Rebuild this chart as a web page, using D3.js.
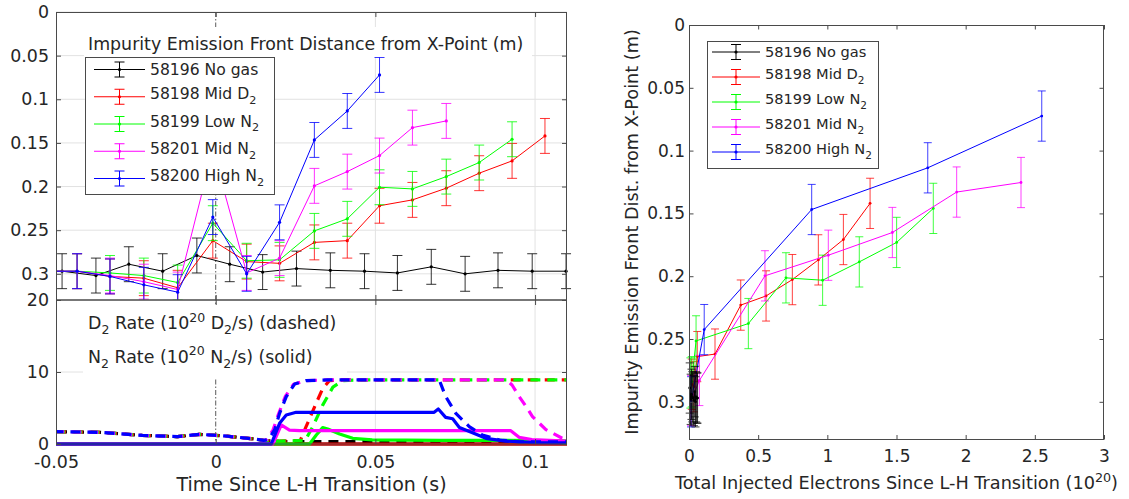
<!DOCTYPE html>
<html><head><meta charset="utf-8">
<script src="https://cdn.jsdelivr.net/npm/d3@7"></script>
<style>body{margin:0;background:#fff}svg{font-family:"DejaVu Sans",sans-serif;display:block}</style>
</head><body><svg id="c" width="1129" height="499"></svg>
<script>
// ---------------- DATA ----------------
const seriesNames = ["58196 No gas", "58198 Mid D_2", "58199 Low N_2", "58201 Mid N_2", "58200 High N_2"];
const seriesColors = ["#000000", "#ff0000", "#00ff00", "#ff00ff", "#0000ff"];

// Top-left: front distance vs time
const noGasTimes = [-0.0586,-0.0481,-0.0375,-0.0272,-0.0166,-0.0059,0.0044,0.0147,0.0253,0.0359,0.0466,0.0569,0.0675,0.0781,0.0884,0.0991,0.1097];
const gasTimes = [-0.0537,-0.0434,-0.0331,-0.0225,-0.0119,-0.0009,0.0097,0.0200,0.0309,0.0412,0.0513,0.0616,0.0722,0.0825,0.0928,0.1031];
const frontNoGas  = [0.298,0.297,0.302,0.289,0.297,0.279,0.289,0.298,0.294,0.296,0.297,0.299,0.292,0.300,0.296,0.297,0.297];
const frontMidD2  = [0.297,0.297,0.303,0.305,0.316,0.262,0.286,0.288,0.264,0.262,0.222,0.2153,0.2019,0.1847,0.1706,0.142];
const frontLowN2  = [0.297,0.297,0.299,0.302,0.310,0.242,0.285,0.284,0.2508,0.237,0.2008,0.2027,0.1886,0.1725,0.1458];
const frontMidN2  = [0.297,0.297,0.302,0.309,0.318,0.158,0.299,0.282,0.1992,0.1829,0.1645,0.1325,0.1248];
const frontHighN2 = [0.297,0.297,0.303,0.3126,0.321,0.235,0.300,0.241,0.1466,0.1134,0.0721];
const frontErr = 0.02;

// Bottom-left: gas rates [time, rate 1e20/s]
const d2Pre = [[-0.055,1.75],[-0.036,1.62],[-0.023,1.2],[-0.012,1.02],[-0.005,1.34],[0.003,1.11],[0.012,0.7],[0.015,0.5]];
const d2NoGas  = d2Pre.concat([[0.02,0.35],[0.11,0.3]]);
const d2MidD2  = d2Pre.concat([[0.02,0.4],[0.0265,0.5],[0.0283,2.4],[0.031,5.2],[0.0335,7.7],[0.0356,8.8],[0.04,8.9],[0.11,8.9]]);
const d2LowN2  = d2Pre.concat([[0.02,0.4],[0.028,0.5],[0.0304,2.4],[0.0335,5.4],[0.0367,7.9],[0.0398,8.8],[0.045,8.9],[0.11,8.9]]);
const d2MidN2  = d2Pre.concat([[0.016,0.6],[0.018,2.0],[0.0197,4.2],[0.0218,6.6],[0.0244,8.3],[0.028,8.8],[0.035,8.9],[0.091,8.9],[0.0928,8.2],[0.095,6.6],[0.0972,5.2],[0.0992,3.8],[0.1034,2.0],[0.1085,0.8],[0.11,0.6]]);
const d2HighN2 = d2Pre.concat([[0.0165,0.6],[0.0185,2.0],[0.02,4.26],[0.0221,6.57],[0.0247,8.33],[0.0283,8.8],[0.035,8.9],[0.07,8.9],[0.072,6.6],[0.0752,4.26],[0.0794,2.41],[0.0835,1.25],[0.0888,0.56],[0.095,0.3],[0.11,0.3]]);
const n2NoGas  = [[-0.055,0],[0.11,0]];
const n2MidD2  = [[-0.055,0],[0.11,0]];
const n2LowN2  = [[-0.055,0],[0.0294,0],[0.0315,1.25],[0.0335,2.27],[0.0351,2.08],[0.0388,1.39],[0.0429,0.79],[0.049,0.56],[0.07,0.5],[0.09,0.5],[0.11,0.45]];
const n2MidN2  = [[-0.055,0],[0.0179,0],[0.0205,2.64],[0.0231,1.94],[0.0263,1.85],[0.0924,1.85],[0.095,0.93],[0.099,0.6],[0.11,0.4]];
const n2HighN2 = [[-0.055,0],[0.0174,0],[0.02,2.87],[0.0221,4.03],[0.0252,4.4],[0.0684,4.4],[0.0697,4.86],[0.072,3.7],[0.0742,3.5],[0.0763,2.3],[0.0804,1.57],[0.0846,0.79],[0.0908,0.4],[0.1,0.2],[0.11,0.15]];

// Right: front distance vs injected electrons
const elecNoGas  = [0.005,0.012,0.018,0.024,0.030,0.036,0.042,0.047,0.052,0.057,0.062];
const distNoGas  = [0.289,0.298,0.294,0.296,0.297,0.299,0.292,0.300,0.296,0.297,0.297];
const elecMidD2  = [0.02,0.035,0.06,0.188,0.374,0.557,0.747,0.935,1.116,1.309];
const distMidD2  = [0.286,0.288,0.264,0.262,0.223,0.2157,0.2027,0.187,0.1708,0.142];
const elecLowN2  = [0.01,0.02,0.051,0.429,0.701,0.966,1.231,1.501,1.766];
const distLowN2  = [0.285,0.284,0.2515,0.2377,0.2013,0.2032,0.1886,0.1731,0.146];
const elecMidN2  = [0.015,0.075,0.549,1.007,1.47,1.935,2.40];
const distMidN2  = [0.299,0.283,0.1997,0.1833,0.1652,0.133,0.1254];
const elecHighN2 = [0.015,0.11,0.887,1.726,2.55];
const distHighN2 = [0.300,0.2425,0.1469,0.1137,0.0725];

const leftYTicks = [0, 0.05, 0.1, 0.15, 0.2, 0.25, 0.3];
const rateTicks = [0, 10, 20];
const timeTicks = [-0.05, 0, 0.05, 0.1];
const rightXTicks = [0, 0.5, 1, 1.5, 2, 2.5, 3];
const rightYTicks = [0, 0.05, 0.1, 0.15, 0.2, 0.25, 0.3];

// ---------------- HELPERS ----------------
const svg = d3.select("#c");
const TXT = "#262626", AX = "#4a4a4a", GRID = "#e2e2e2";
const fmt = d => String(+d.toFixed(3));

function rich(g, str, x, y, size, anchor) {
  const t = g.append("text").attr("x", x).attr("y", y).attr("font-size", size)
    .attr("fill", TXT).style("white-space", "pre");
  if (anchor) t.attr("text-anchor", anchor);
  const segs = []; let i = 0, buf = "";
  while (i < str.length) {
    const c = str[i];
    if (c === "_" || c === "^") {
      if (buf) { segs.push({s: buf, m: 0}); buf = ""; }
      let s;
      if (str[i + 1] === "{") { const j = str.indexOf("}", i); s = str.slice(i + 2, j); i = j + 1; }
      else { s = str[i + 1]; i += 2; }
      segs.push({s, m: c === "_" ? 1 : -1});
    } else { buf += c; i++; }
  }
  if (buf) segs.push({s: buf, m: 0});
  let cur = 0;
  segs.forEach(sg => {
    const target = sg.m === 1 ? 0.3 * size : sg.m === -1 ? -0.42 * size : 0;
    const ts = t.append("tspan").attr("dy", target - cur).text(sg.s);
    if (sg.m) ts.attr("font-size", size * 0.72);
    cur = target;
  });
  return t;
}

function styleAxis(g, fs) {
  g.select(".domain").remove();
  g.selectAll(".tick line").attr("stroke", AX);
  g.selectAll(".tick text").attr("fill", TXT).attr("font-size", fs).attr("font-family", "DejaVu Sans");
}

// ---------------- LEFT SCALES ----------------
const xL = d3.scaleLinear().domain([-0.05, 0.11]).range([56, 567]);
const yTop = d3.scaleLinear().domain([0, 0.33]).range([12, 300]);
const yBot = d3.scaleLinear().domain([0, 20]).range([444, 300]);
const FS_L = 17.4;

// grids
const gGrid = svg.append("g");
leftYTicks.forEach(v => gGrid.append("line").attr("x1", 56).attr("x2", 567).attr("y1", yTop(v)).attr("y2", yTop(v)).attr("stroke", GRID));
[10].forEach(v => gGrid.append("line").attr("x1", 56).attr("x2", 567).attr("y1", yBot(v)).attr("y2", yBot(v)).attr("stroke", GRID));
[0.05, 0.1].forEach(v => {
  gGrid.append("line").attr("x1", xL(v)).attr("x2", xL(v)).attr("y1", 12).attr("y2", 444).attr("stroke", GRID);
});
// dash-dot zero line
gGrid.append("line").attr("x1", xL(0)).attr("x2", xL(0)).attr("y1", 12).attr("y2", 444)
  .attr("stroke", "#6a6a6a").attr("stroke-width", 1.1).attr("stroke-dasharray", "5,2,1.5,2");

// clip paths
const defs = svg.append("defs");
defs.append("clipPath").attr("id", "clipTop").append("rect").attr("x", 56).attr("y", 12).attr("width", 517).attr("height", 288);
defs.append("clipPath").attr("id", "clipBot").append("rect").attr("x", 56).attr("y", 296).attr("width", 511).attr("height", 152);

// top-left series
const topSeries = [
  {t: noGasTimes, v: frontNoGas}, {t: gasTimes, v: frontMidD2}, {t: gasTimes, v: frontLowN2},
  {t: gasTimes, v: frontMidN2}, {t: gasTimes, v: frontHighN2}
];
const gTop = svg.append("g").attr("clip-path", "url(#clipTop)");
topSeries.forEach((s, k) => {
  const pts = s.v.map((v, i) => [s.t[i], v]);
  const col = seriesColors[k];
  const g = gTop.append("g");
  g.append("path").datum(pts).attr("fill", "none").attr("stroke", col).attr("stroke-width", 1)
    .attr("d", d3.line().x(d => xL(d[0])).y(d => yTop(d[1])));
  pts.forEach(d => {
    const x = xL(d[0]), y1 = yTop(d[1] - frontErr), y2 = yTop(d[1] + frontErr);
    g.append("line").attr("x1", x).attr("x2", x).attr("y1", y1).attr("y2", y2).attr("stroke", col).attr("stroke-opacity", 0.8);
    [y1, y2].forEach(y => g.append("line").attr("x1", x - 5).attr("x2", x + 5).attr("y1", y).attr("y2", y).attr("stroke", col).attr("stroke-opacity", 0.8));
    g.append("circle").attr("cx", x).attr("cy", yTop(d[1])).attr("r", 1.6).attr("fill", col);
  });
});

// bottom-left rates
const rateD2 = [d2NoGas, d2MidD2, d2LowN2, d2MidN2, d2HighN2];
const rateN2 = [n2NoGas, n2MidD2, n2LowN2, n2MidN2, n2HighN2];
const gBot = svg.append("g").attr("clip-path", "url(#clipBot)");
const rl = d3.line().x(d => xL(d[0])).y(d => yBot(d[1]));
rateD2.forEach((r, k) => {
  gBot.append("path").datum(r).attr("fill", "none").attr("stroke", seriesColors[k]).attr("stroke-width", 3.2)
    .attr("stroke-dasharray", "10,7").attr("stroke-dashoffset", k * 0.9).attr("stroke-linejoin", "round").attr("d", rl);
  gBot.append("path").datum(rateN2[k]).attr("fill", "none").attr("stroke", seriesColors[k]).attr("stroke-width", 3.2)
    .attr("stroke-linejoin", "round").attr("d", rl);
});

// in-panel texts with white backgrounds
svg.append("rect").attr("x", 84).attr("y", 27).attr("width", 448).attr("height", 30).attr("fill", "#fff");
rich(svg, "Impurity Emission Front Distance from X-Point (m)", 88, 50, FS_L);
svg.append("rect").attr("x", 83).attr("y", 305).attr("width", 264).attr("height", 73).attr("fill", "#fff");
rich(svg, "D_2 Rate (10^{20} D_2/s) (dashed)", 88, 329, FS_L);
rich(svg, "N_2 Rate (10^{20} N_2/s) (solid)", 88, 362.5, FS_L);

// left axes
const tl = -5;
let a;
a = svg.append("g").attr("transform", "translate(56,0)").call(d3.axisLeft(yTop).tickValues(leftYTicks).tickSize(tl).tickPadding(7).tickFormat(fmt)); styleAxis(a, FS_L);
a = svg.append("g").attr("transform", "translate(567,0)").call(d3.axisRight(yTop).tickValues(leftYTicks).tickSize(tl).tickFormat("")); styleAxis(a, FS_L);
a = svg.append("g").attr("transform", "translate(0,12)").call(d3.axisTop(xL).tickValues(timeTicks).tickSize(tl).tickFormat("")); styleAxis(a, FS_L);
a = svg.append("g").attr("transform", "translate(0,300)").call(d3.axisBottom(xL).tickValues(timeTicks).tickSize(tl).tickFormat("")); styleAxis(a, FS_L);
a = svg.append("g").attr("transform", "translate(56,0)").call(d3.axisLeft(yBot).tickValues(rateTicks).tickSize(tl).tickPadding(7).tickFormat(fmt)); styleAxis(a, FS_L);
a = svg.append("g").attr("transform", "translate(567,0)").call(d3.axisRight(yBot).tickValues(rateTicks).tickSize(tl).tickFormat("")); styleAxis(a, FS_L);
a = svg.append("g").attr("transform", "translate(0,300)").call(d3.axisTop(xL).tickValues(timeTicks).tickSize(tl).tickFormat("")); styleAxis(a, FS_L);
a = svg.append("g").attr("transform", "translate(0,444)").call(d3.axisBottom(xL).tickValues(timeTicks).tickSize(tl).tickPadding(11.5).tickFormat(fmt)); styleAxis(a, FS_L);
svg.append("rect").attr("x", 56.5).attr("y", 12.5).attr("width", 510).attr("height", 287.5).attr("fill", "none").attr("stroke", AX);
svg.append("rect").attr("x", 56.5).attr("y", 300).attr("width", 510).attr("height", 144).attr("fill", "none").attr("stroke", AX);
rich(svg, "Time Since L-H Transition (s)", (56 + 567) / 2, 491, 19, "middle");

// legend helper
function legend(x0, y0, w, h, rowY, lineX1, lineX2, textX, fs) {
  const g = svg.append("g");
  g.append("rect").attr("x", x0 + 0.5).attr("y", y0 + 0.5).attr("width", w).attr("height", h).attr("fill", "#fff").attr("stroke", AX);
  seriesNames.forEach((nm, k) => {
    const y = rowY(k), col = seriesColors[k], cx = (lineX1 + lineX2) / 2;
    g.append("line").attr("x1", lineX1).attr("x2", lineX2).attr("y1", y).attr("y2", y).attr("stroke", col);
    g.append("line").attr("x1", cx).attr("x2", cx).attr("y1", y - 7.5).attr("y2", y + 7.5).attr("stroke", col);
    [y - 7.5, y + 7.5].forEach(yy => g.append("line").attr("x1", cx - 5).attr("x2", cx + 5).attr("y1", yy).attr("y2", yy).attr("stroke", col));
    g.append("circle").attr("cx", cx).attr("cy", y).attr("r", 1.6).attr("fill", col);
    const hasSub = nm.includes("_");
    rich(g, nm, textX, y + fs * 0.36 - (hasSub ? 3 : 0), fs);
  });
}
legend(85, 57, 189, 137, k => 69.5 + 27.25 * k, 94, 145, 150, 15.6);

// ---------------- RIGHT CHART ----------------
const xR = d3.scaleLinear().domain([0, 3]).range([689, 1104]);
const yR = d3.scaleLinear().domain([0, 0.33]).range([25, 439.5]);
const FS_R = 17;
const rightSeries = [
  {x: elecNoGas, y: distNoGas}, {x: elecMidD2, y: distMidD2}, {x: elecLowN2, y: distLowN2},
  {x: elecMidN2, y: distMidN2}, {x: elecHighN2, y: distHighN2}
];
const gR = svg.append("g");
[1, 2, 3, 4, 0].forEach(k => {
  const s = rightSeries[k], col = seriesColors[k];
  const pts = s.x.map((v, i) => [v, s.y[i]]);
  const g = gR.append("g");
  g.append("path").datum(pts).attr("fill", "none").attr("stroke", col).attr("stroke-width", 1)
    .attr("d", d3.line().x(d => xR(d[0])).y(d => yR(d[1])));
  pts.forEach(d => {
    const x = xR(d[0]), y1 = yR(d[1] - frontErr), y2 = yR(d[1] + frontErr);
    g.append("line").attr("x1", x).attr("x2", x).attr("y1", y1).attr("y2", y2).attr("stroke", col).attr("stroke-opacity", 0.75);
    [y1, y2].forEach(y => g.append("line").attr("x1", x - 4).attr("x2", x + 4).attr("y1", y).attr("y2", y).attr("stroke", col).attr("stroke-opacity", 0.75));
    g.append("circle").attr("cx", x).attr("cy", yR(d[1])).attr("r", 1.4).attr("fill", col);
  });
});
const tr = -4.5;
a = svg.append("g").attr("transform", "translate(689,0)").call(d3.axisLeft(yR).tickValues(rightYTicks).tickSize(tr).tickPadding(4).tickFormat(fmt)); styleAxis(a, FS_R);
a = svg.append("g").attr("transform", "translate(1104,0)").call(d3.axisRight(yR).tickValues(rightYTicks).tickSize(tr).tickFormat("")); styleAxis(a, FS_R);
a = svg.append("g").attr("transform", "translate(0,25)").call(d3.axisTop(xR).tickValues(rightXTicks).tickSize(tr).tickFormat("")); styleAxis(a, FS_R);
a = svg.append("g").attr("transform", "translate(0,439.5)").call(d3.axisBottom(xR).tickValues(rightXTicks).tickSize(tr).tickPadding(10.5).tickFormat(fmt)); styleAxis(a, FS_R);
svg.append("rect").attr("x", 689.5).attr("y", 25.5).attr("width", 414).attr("height", 414).attr("fill", "none").attr("stroke", AX);
legend(707, 41, 171, 127, k => 52 + 25 * k, 712, 760, 765, 14.6);
rich(svg, "Total Injected Electrons Since L-H Transition (10^{20})", (689 + 1104) / 2, 489, 17.7, "middle");
svg.append("text").attr("transform", "translate(638,232) rotate(-90)").attr("text-anchor", "middle")
  .attr("font-size", 17.7).attr("fill", TXT).text("Impurity Emission Front Dist. from X-Point (m)");
</script></body></html>
